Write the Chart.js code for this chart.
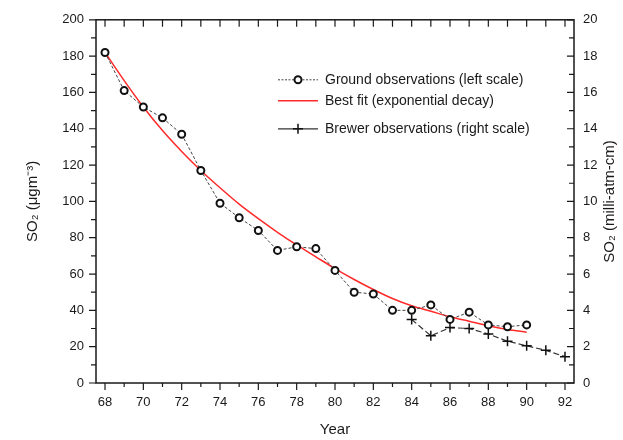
<!DOCTYPE html>
<html>
<head>
<meta charset="utf-8">
<script src="https://cdn.jsdelivr.net/npm/chart.js@4"></script>
<style>
  html, body { margin: 0; padding: 0; background: #fff; }
  #wrap { width: 623px; height: 440px; }
</style>
</head>
<body>
<div id="wrap"><canvas id="so2Chart" width="623" height="440"></canvas></div>
<script>
// --- data ---
const years = [68, 69, 70, 71, 72, 73, 74, 75, 76, 77, 78, 79, 80, 81, 82, 83, 84, 85, 86, 87, 88, 89, 90];
const groundSO2 = [182, 161, 152, 146, 137, 117, 99, 91, 84, 73, 75, 74, 62, 50, 49, 40, 40, 43, 35, 39, 32, 31, 32];
const fitSO2 = [182, 166.5, 152, 139, 127.5, 117, 107.5, 98.5, 90.5, 83, 76, 69.5, 63, 57, 51.5, 46.5, 42.5, 39.5, 36.5, 34, 31.5, 29.5, 28];
const brewerYears = [84, 85, 86, 87, 88, 89, 90, 91, 92];
const brewerSO2 = [3.5, 2.6, 3.05, 3.0, 2.7, 2.3, 2.05, 1.8, 1.45];

const seriesLabels = [
  'Ground observations (left scale)',
  'Best fit (exponential decay)',
  'Brewer observations (right scale)'
];
const xTickYears = [68, 70, 72, 74, 76, 78, 80, 82, 84, 86, 88, 90, 92];
const xMinorYears = [69, 71, 73, 75, 77, 79, 81, 83, 85, 87, 89, 91];
const leftTicks = [0, 20, 40, 60, 80, 100, 120, 140, 160, 180, 200];
const rightTicks = [0, 2, 4, 6, 8, 10, 12, 14, 16, 18, 20];
const xTitle = 'Year';
const leftTitle = 'SO\u2082 (\u03BCgm\u207B\u00B3)';
const rightTitle = 'SO\u2082 (milli-atm-cm)';

const FONT = "'Liberation Sans', Arial, sans-serif";
const INK = '#1a1a1a';

const pairs = (xs, ys) => xs.map((x, i) => ({ x, y: ys[i] }));

// frame, tick marks, right title and in-plot legend
const framePlugin = {
  id: 'frame',
  afterDraw(chart) {
    const { ctx, chartArea: a, scales } = chart;
    const sx = scales.x, sl = scales.y, sr = scales.y1;
    ctx.save();
    ctx.strokeStyle = INK;
    ctx.lineWidth = 1.5;
    ctx.strokeRect(a.left, a.top, a.right - a.left, a.bottom - a.top);

    ctx.lineWidth = 1.2;
    ctx.beginPath();
    const xt = (v, len) => {
      const p = sx.getPixelForValue(v);
      ctx.moveTo(p, a.bottom); ctx.lineTo(p, a.bottom + len);
      ctx.moveTo(p, a.top); ctx.lineTo(p, a.top + 7);
    };
    xTickYears.forEach(v => xt(v, 7));
    xMinorYears.forEach(v => xt(v, 4));
    leftTicks.forEach((v, i) => {
      const p = sl.getPixelForValue(v);
      ctx.moveTo(a.left, p); ctx.lineTo(a.left - 7, p);
      if (i < leftTicks.length - 1) {
        const q = sl.getPixelForValue(v + 10);
        ctx.moveTo(a.left, q); ctx.lineTo(a.left - 5, q);
      }
    });
    rightTicks.forEach((v, i) => {
      const p = sr.getPixelForValue(v);
      ctx.moveTo(a.right, p); ctx.lineTo(a.right - 7, p);
      if (i < rightTicks.length - 1) {
        const q = sr.getPixelForValue(v + 1);
        ctx.moveTo(a.right, q); ctx.lineTo(a.right - 5, q);
      }
    });
    ctx.stroke();

    // right axis title, reads bottom-to-top like the left one
    ctx.fillStyle = INK;
    ctx.font = '15px ' + FONT;
    ctx.textAlign = 'center';
    ctx.textBaseline = 'middle';
    ctx.translate(610, (a.top + a.bottom) / 2);
    ctx.rotate(-Math.PI / 2);
    ctx.fillText(rightTitle, 0, 0);
    ctx.restore();

    // legend
    ctx.save();
    const lx = a.left + 182, lw = 40;
    const rows = [a.top + 60, a.top + 81, a.top + 109];
    chart.data.datasets.forEach((ds, i) => {
      const y = rows[i];
      ctx.strokeStyle = ds.borderColor;
      ctx.lineWidth = ds.borderWidth;
      ctx.setLineDash(i === 0 ? [2, 1.5] : []);
      ctx.beginPath();
      ctx.moveTo(lx, y); ctx.lineTo(lx + lw, y);
      ctx.stroke();
      ctx.setLineDash([]);
      if (i === 0) {
        ctx.strokeStyle = ds.pointBorderColor;
        ctx.lineWidth = ds.pointBorderWidth;
        ctx.fillStyle = '#fff';
        ctx.beginPath();
        ctx.arc(lx + lw / 2, y, ds.pointRadius, 0, Math.PI * 2);
        ctx.fill(); ctx.stroke();
      } else if (i === 2) {
        ctx.strokeStyle = ds.pointBorderColor;
        ctx.lineWidth = ds.pointBorderWidth;
        ctx.beginPath();
        ctx.moveTo(lx + lw / 2 - 5, y); ctx.lineTo(lx + lw / 2 + 5, y);
        ctx.moveTo(lx + lw / 2, y - 5); ctx.lineTo(lx + lw / 2, y + 5);
        ctx.stroke();
      }
      ctx.fillStyle = INK;
      ctx.font = '14px ' + FONT;
      ctx.textAlign = 'left';
      ctx.textBaseline = 'middle';
      ctx.fillText(ds.label, lx + lw + 7, y);
    });
    ctx.restore();
  }
};

const tickFont = { family: FONT, size: 13 };

new Chart(document.getElementById('so2Chart'), {
  type: 'line',
  data: {
    datasets: [
      {
        label: seriesLabels[0],
        data: pairs(years, groundSO2),
        yAxisID: 'y',
        borderColor: '#444',
        borderWidth: 1,
        borderDash: [3, 2],
        pointStyle: 'circle',
        pointRadius: 3.5,
        pointBorderWidth: 2,
        pointBorderColor: '#111',
        pointBackgroundColor: '#fff',
        tension: 0,
      },
      {
        label: seriesLabels[1],
        data: pairs(years, fitSO2),
        yAxisID: 'y',
        borderColor: '#ff2a2a',
        borderWidth: 1.5,
        pointRadius: 0,
        cubicInterpolationMode: 'monotone',
      },
      {
        label: seriesLabels[2],
        data: pairs(brewerYears, brewerSO2),
        yAxisID: 'y1',
        borderColor: '#333',
        borderWidth: 1.2,
        borderDash: [6, 3],
        pointStyle: 'cross',
        pointRadius: 5,
        pointBorderWidth: 1.5,
        pointBorderColor: '#111',
        tension: 0,
      }
    ]
  },
  options: {
    responsive: false,
    animation: false,
    layout: { padding: { top: 13, right: 0, bottom: 0, left: 0 } },
    plugins: {
      legend: { display: false },
      tooltip: { enabled: false }
    },
    scales: {
      x: {
        type: 'linear',
        min: 67.53,
        max: 92.47,
        afterBuildTicks: s => { s.ticks = xTickYears.map(v => ({ value: v })); },
        afterFit: s => { s.height = 57; },
        grid: { display: false, drawTicks: false },
        border: { display: false },
        ticks: { color: INK, font: tickFont, padding: 12, autoSkip: false, maxRotation: 0 },
        title: { display: true, text: xTitle, color: INK, font: { family: FONT, size: 15 }, padding: { top: 0, bottom: 1 } }
      },
      y: {
        position: 'left',
        min: 0,
        max: 200,
        afterBuildTicks: s => { s.ticks = leftTicks.map(v => ({ value: v })); },
        afterFit: s => { s.width = 96; },
        grid: { display: false, drawTicks: false },
        border: { display: false },
        ticks: { color: INK, font: tickFont, padding: 12 },
        title: { display: true, text: leftTitle, color: INK, font: { family: FONT, size: 15 }, padding: { top: 24, bottom: 0 } }
      },
      y1: {
        position: 'right',
        min: 0,
        max: 20,
        afterBuildTicks: s => { s.ticks = rightTicks.map(v => ({ value: v })); },
        afterFit: s => { s.width = 49; },
        grid: { display: false, drawTicks: false },
        border: { display: false },
        ticks: { color: INK, font: tickFont, padding: 9 }
      }
    }
  },
  plugins: [framePlugin]
});
</script>
</body>
</html>
